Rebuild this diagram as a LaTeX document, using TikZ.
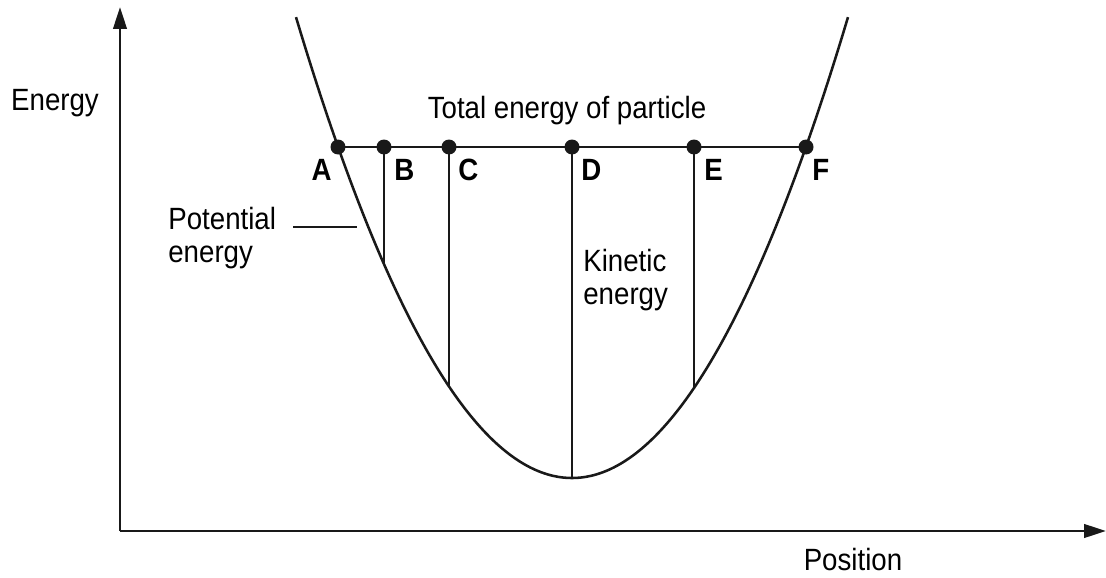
\documentclass[tikz,border=0pt]{standalone}
\usepackage{fontspec}
\setmainfont{Liberation Sans}[FakeStretch=0.9]
\usetikzlibrary{arrows.meta, positioning}

\begin{document}
\begin{tikzpicture}[
    x=0.02cm, y=-0.02cm,
    axis/.style={-{Triangle[length=0.44cm, width=0.27cm]}, line width=1.5pt, color=black!90},
    curve/.style={line width=1.45pt, color=black!90},
    dot/.style={circle, fill=black!90, inner sep=0pt, minimum size=0.3cm},
    letter/.style={inner sep=0pt, font=\fontsize{17.5}{18}\selectfont\bfseries},
    txt/.style={inner sep=0pt, font=\fontsize{17.5}{18.5}\selectfont, align=left}
]
\useasboundingbox (0,0) rectangle (1106,578);

% axes
\coordinate (origin) at (120,531);
\coordinate (ytop) at (120,7);
\coordinate (xend) at (1106,531);
\draw[axis] (origin) -- (ytop);
\draw[axis] (origin) -- (xend);

% potential energy curve
\draw[curve] plot[domain=296:848, samples=100, smooth] (\x, {478-0.605*((\x-572)/10)^2});

% points on the curve
\coordinate (cB) at (384,264);
\coordinate (cC) at (449,386.5);
\coordinate (cD) at (572,478);
\coordinate (cE) at (694,388);

% total energy line
\node[dot] (pA) at (338,147) {};
\node[dot] (pB) at (384,147) {};
\node[dot] (pC) at (449,147) {};
\node[dot] (pD) at (572,147) {};
\node[dot] (pE) at (694,147) {};
\node[dot] (pF) at (806,147) {};
\draw[curve] (pA.center) -- (pF.center);

\draw[curve] (pB.center) -- (cB);
\draw[curve] (pC.center) -- (cC);
\draw[curve] (pD.center) -- (cD);
\draw[curve] (pE.center) -- (cE);

\node[letter, below left=0.24cm and 0.12cm of pA.center] (lA) {A};
\node[letter, below right=0.24cm and 0.2cm of pB.center] (lB) {B};
\node[letter, below right=0.24cm and 0.18cm of pC.center] (lC) {C};
\node[letter, below right=0.24cm and 0.18cm of pD.center] (lD) {D};
\node[letter, below right=0.24cm and 0.2cm of pE.center] (lE) {E};
\node[letter, below right=0.24cm and 0.12cm of pF.center] (lF) {F};

% labels
\node[txt] (energy) at (55,103) {Energy};
\node[txt] (position) at (853,560) {Position};
\node[txt] (total) at (567,111) {Total energy of particle};
\node[txt, anchor=north west] (potential) at (168,207) {Potential\\energy};
\node[txt, anchor=north west] (kinetic) at (583,249) {Kinetic\\energy};

\coordinate (pot) at (357,227);
\draw[curve] ([xshift=0.34cm]potential.north east |- pot) -- (pot);
\end{tikzpicture}
\end{document}
